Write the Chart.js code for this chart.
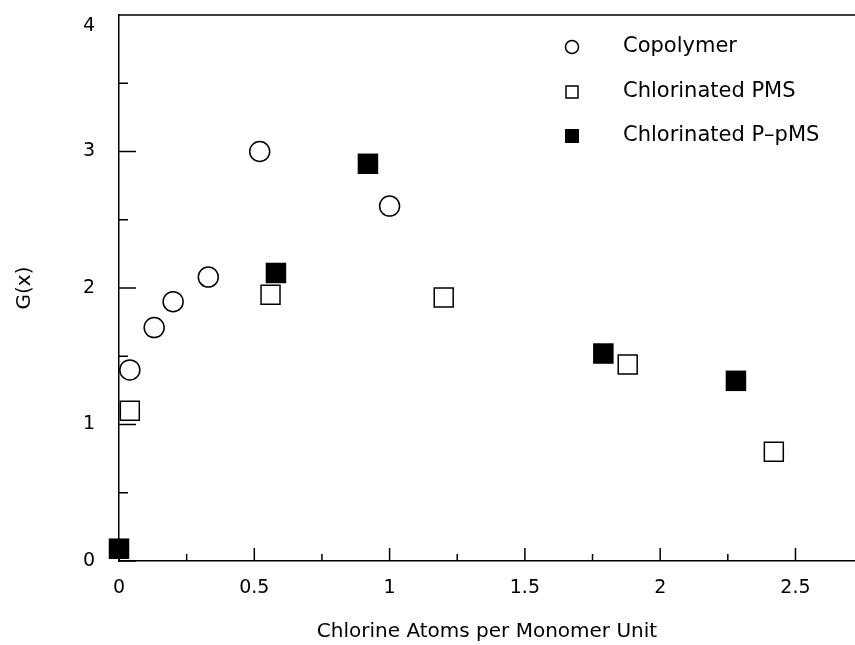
<!DOCTYPE html>
<html>
<head>
<meta charset="utf-8">
<script src="https://cdn.jsdelivr.net/npm/chart.js@4"></script>
<style>
  html, body { margin: 0; padding: 0; background: #fff; }
</style>
</head>
<body>
<canvas id="chart" width="855" height="645"></canvas>
<script>
// values
const copolymerX = [0.04, 0.13, 0.20, 0.33, 0.52, 1.00];
const copolymerY = [1.40, 1.71, 1.90, 2.08, 3.00, 2.60];

const pmsX = [0.04, 0.56, 1.20, 1.88, 2.42];
const pmsY = [1.10, 1.95, 1.93, 1.44, 0.80];

const ppmsX = [0.00, 0.58, 0.92, 1.79, 2.28];
const ppmsY = [0.09, 2.11, 2.91, 1.52, 1.32];

const seriesNames = ['Copolymer', 'Chlorinated PMS', 'Chlorinated P\u2013pMS'];
const xTicks = [0, 0.5, 1, 1.5, 2, 2.5];
const yTicks = [0, 1, 2, 3, 4];

const FONT = 'DejaVu Sans';

function pts(xs, ys) {
  return xs.map((x, i) => ({ x: x, y: ys[i] }));
}

// ticks pointing inward, top frame line, and the legend inside the plot
const framePlugin = {
  id: 'frame',
  afterDraw(chart) {
    const ctx = chart.ctx;
    const xs = chart.scales.x, ys = chart.scales.y;
    const a = chart.chartArea;
    ctx.save();
    ctx.strokeStyle = '#000';
    ctx.lineWidth = 1.5;
    ctx.beginPath();
    ctx.moveTo(a.left, a.top);
    ctx.lineTo(a.right, a.top);
    for (let v = 0; v <= 4.001; v += 0.5) {
      const py = ys.getPixelForValue(v);
      const len = Math.abs(v % 1) < 0.01 ? 17 : 9;
      ctx.moveTo(a.left, py);
      ctx.lineTo(a.left + len, py);
    }
    for (let v = 0; v <= xs.max; v += 0.25) {
      const px = xs.getPixelForValue(v);
      const len = Math.abs((v * 2) % 1) < 0.01 ? 13 : 7;
      ctx.moveTo(px, a.bottom);
      ctx.lineTo(px, a.bottom - len);
    }
    ctx.stroke();

    // legend
    const lx = 572, tx = 623, rows = [47, 92, 136];
    ctx.font = '21px "' + FONT + '"';
    ctx.fillStyle = '#000';
    ctx.textBaseline = 'middle';
    chart.data.datasets.forEach((ds, i) => {
      const y = rows[i];
      ctx.lineWidth = 1.5;
      ctx.beginPath();
      if (ds.pointStyle === 'circle') {
        ctx.arc(lx, y, 6.5, 0, Math.PI * 2);
        ctx.stroke();
      } else if (ds.pointBackgroundColor === '#000') {
        ctx.fillRect(lx - 7, y - 7, 14, 14);
      } else {
        ctx.strokeRect(lx - 6, y - 6, 12, 12);
      }
      ctx.fillText(seriesNames[i], tx, y);
    });
    ctx.restore();
  }
};

new Chart(document.getElementById('chart'), {
  type: 'scatter',
  data: {
    datasets: [
      {
        label: seriesNames[0],
        data: pts(copolymerX, copolymerY),
        clip: false,
        pointStyle: 'circle',
        pointRadius: 10,
        pointBorderWidth: 1.5,
        pointBorderColor: '#000',
        pointBackgroundColor: 'rgba(255,255,255,0)'
      },
      {
        label: seriesNames[1],
        data: pts(pmsX, pmsY),
        clip: false,
        pointStyle: 'rect',
        pointRadius: 13.4,
        pointBorderWidth: 1.5,
        pointBorderColor: '#000',
        pointBackgroundColor: 'rgba(255,255,255,0)'
      },
      {
        label: seriesNames[2],
        data: pts(ppmsX, ppmsY),
        clip: false,
        pointStyle: 'rect',
        pointRadius: 14.5,
        pointBorderWidth: 0,
        pointBorderColor: '#000',
        pointBackgroundColor: '#000'
      }
    ]
  },
  options: {
    responsive: false,
    animation: false,
    layout: { autoPadding: false, padding: { top: 15, right: 0, left: 0, bottom: 0 } },
    plugins: {
      legend: { display: false },
      tooltip: { enabled: false }
    },
    scales: {
      x: {
        type: 'linear',
        min: 0,
        max: 2.72,
        afterFit: s => { s.height = 84; s.paddingLeft = 0; s.paddingRight = 0; },
        afterBuildTicks: s => { s.ticks = xTicks.map(v => ({ value: v })); },
        grid: { display: false, drawTicks: false },
        border: { display: true, color: '#000', width: 1.5 },
        ticks: {
          color: '#000',
          padding: 16,
          maxRotation: 0,
          font: { family: FONT, size: 19 },
          callback: v => String(v)
        },
        title: {
          display: true,
          text: 'Chlorine Atoms per Monomer Unit',
          color: '#000',
          font: { family: FONT, size: 20 },
          padding: { top: 0, bottom: 1 }
        }
      },
      y: {
        type: 'linear',
        min: 0,
        max: 4,
        afterFit: s => { s.width = 119; s.paddingTop = 0; s.paddingBottom = 0; },
        afterBuildTicks: s => { s.ticks = yTicks.map(v => ({ value: v })); },
        grid: { display: false, drawTicks: false },
        border: { display: true, color: '#000', width: 1.5 },
        ticks: {
          color: '#000',
          padding: 24,
          font: { family: FONT, size: 19 },
          // the top label sits a bit below its tick in the original
          callback: v => (v === 4 ? ['', '4'] : String(v))
        },
        title: {
          display: true,
          text: 'G(x)',
          color: '#000',
          font: { family: FONT, size: 20 },
          padding: { top: 13, bottom: 0 }
        }
      }
    }
  },
  plugins: [framePlugin]
});
</script>
</body>
</html>
